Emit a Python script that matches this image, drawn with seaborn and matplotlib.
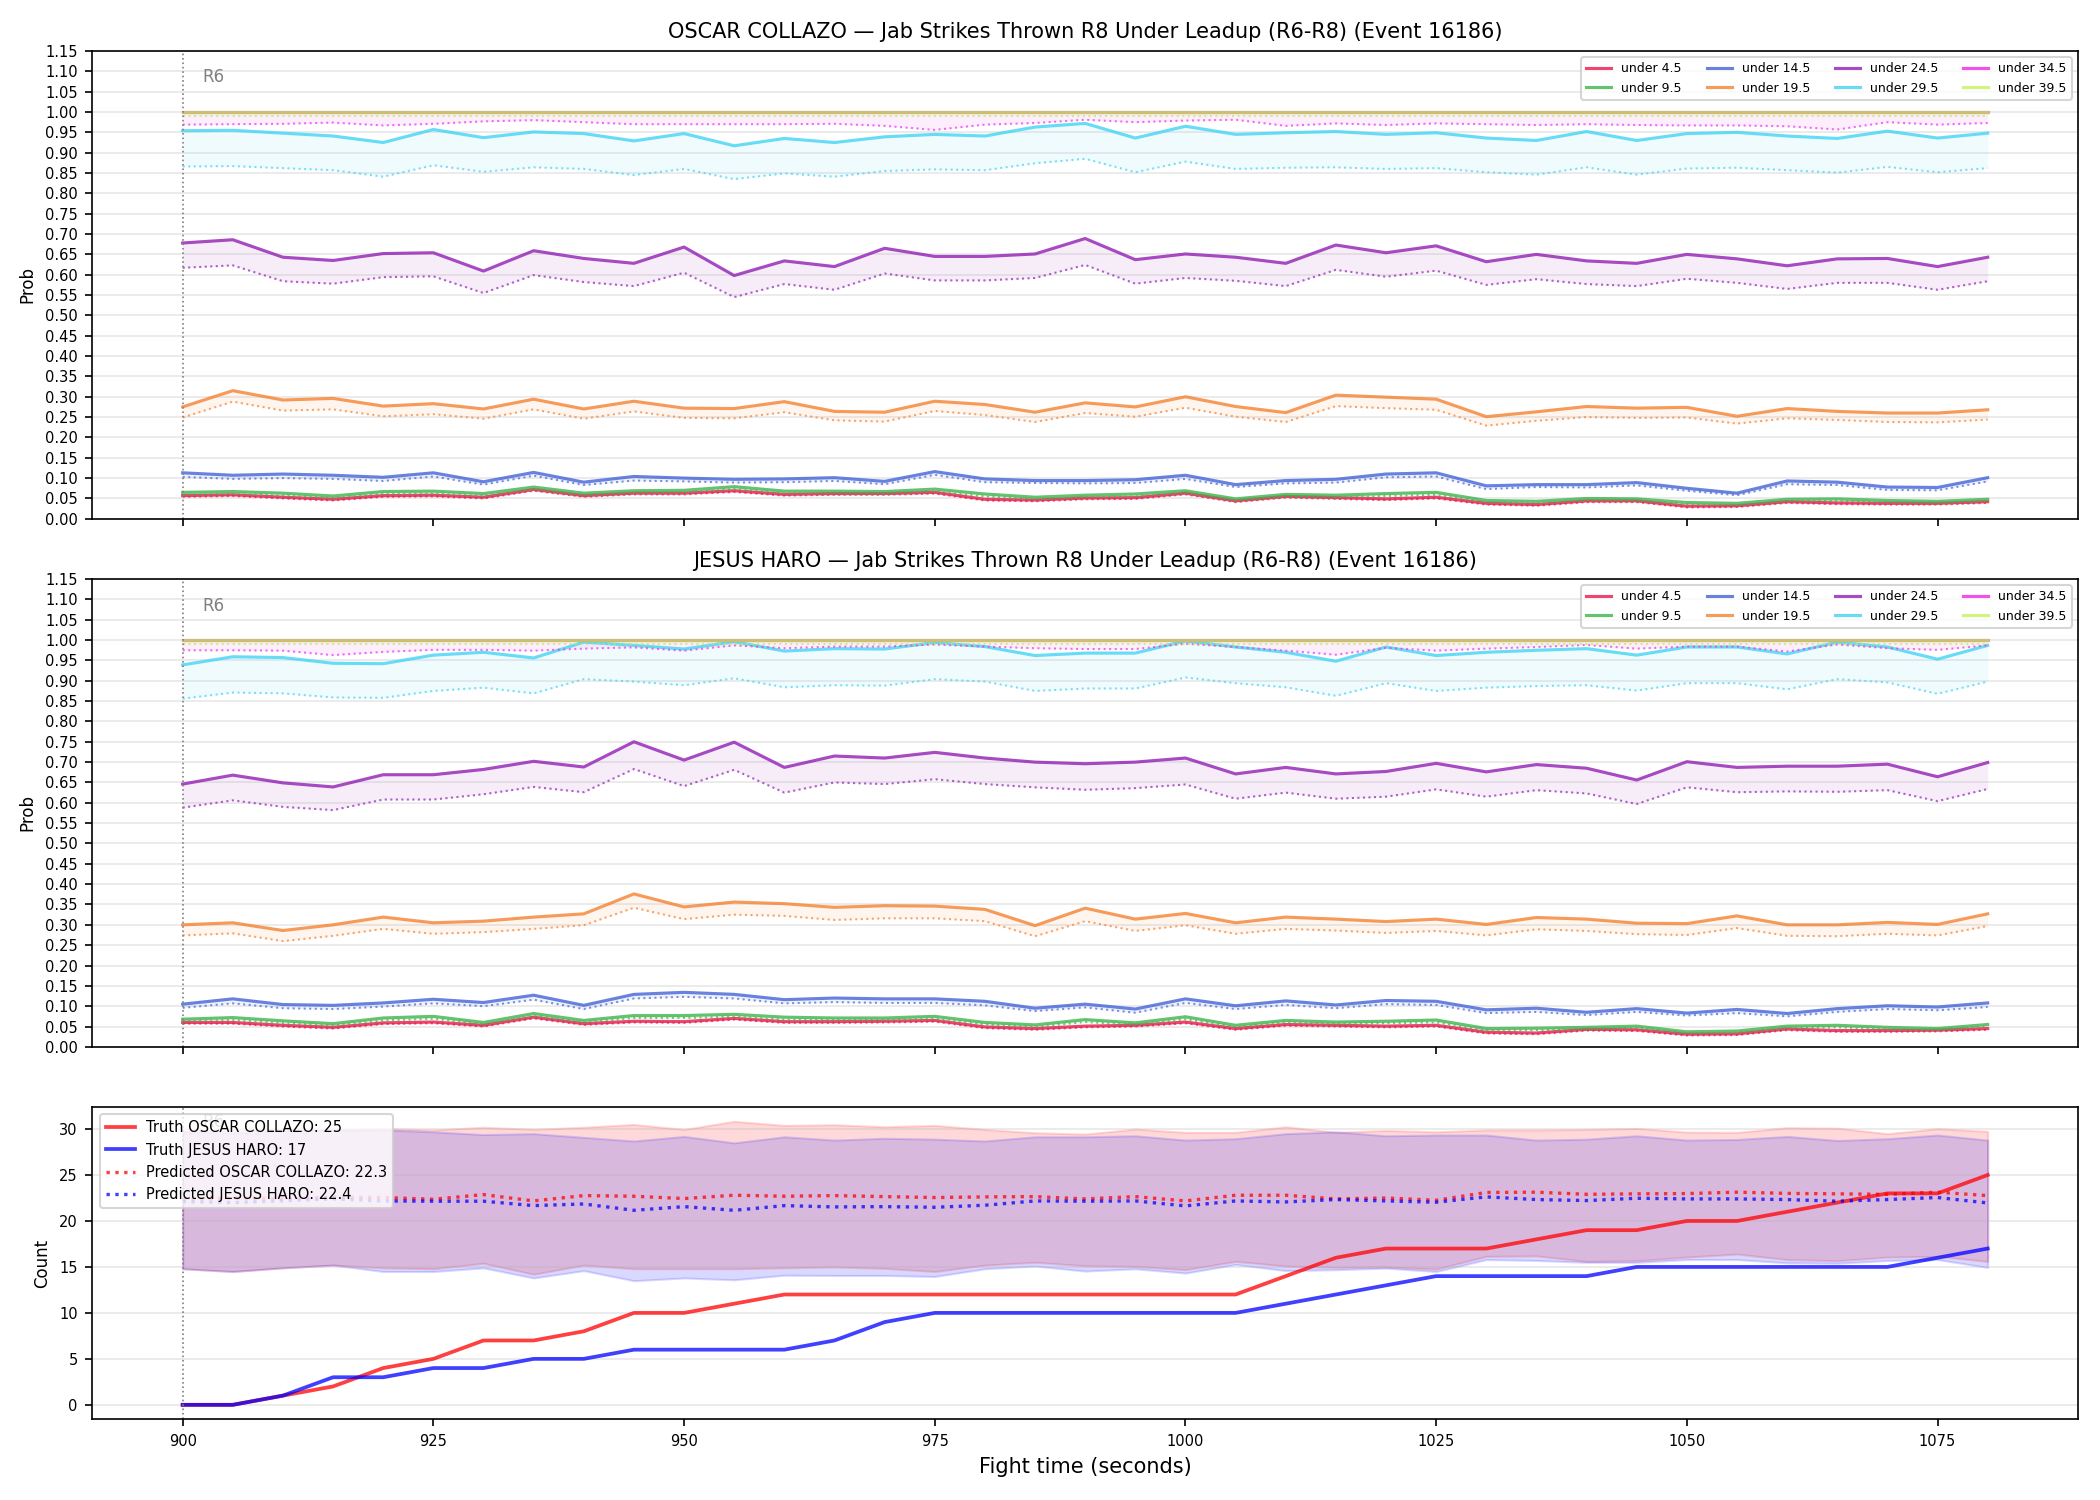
import numpy as np
import pandas as pd
import seaborn as sns
import matplotlib
matplotlib.use("Agg")
from matplotlib import pyplot as plt
from matplotlib.ticker import MultipleLocator

# fight time grid (seconds)
t = list(range(900, 1085, 5))

thresholds = ["under 4.5", "under 9.5", "under 14.5", "under 19.5",
              "under 24.5", "under 29.5", "under 34.5", "under 39.5"]
colors = ["#e6194b", "#3cb44b", "#4363d8", "#f58231",
          "#911eb4", "#42d4f4", "#f032e6", "#bfef45"]
line_alpha = [0.8, 0.8, 0.8, 0.8, 0.8, 0.8, 0.85, 0.7]

# ---- OSCAR COLLAZO: solid = model prob, dotted = second estimate
oc_u4 = [0.057, 0.059, 0.053, 0.048, 0.057, 0.058, 0.053, 0.072, 0.057, 0.063, 0.063, 0.069, 0.060, 0.062, 0.062, 0.065, 0.048, 0.046, 0.051,
         0.052, 0.063, 0.044, 0.055, 0.052, 0.049, 0.053, 0.038, 0.035, 0.044, 0.044, 0.031, 0.032, 0.042, 0.039, 0.038, 0.038, 0.042]
oc_u4_d = [0.054, 0.056, 0.050, 0.045, 0.054, 0.055, 0.050, 0.069, 0.054, 0.060, 0.060, 0.066, 0.057, 0.059, 0.059, 0.062, 0.045, 0.043, 0.048,
           0.049, 0.060, 0.041, 0.052, 0.049, 0.046, 0.050, 0.035, 0.032, 0.041, 0.041, 0.028, 0.029, 0.039, 0.036, 0.035, 0.035, 0.039]
oc_u9 = [0.065, 0.067, 0.063, 0.056, 0.067, 0.068, 0.062, 0.078, 0.063, 0.069, 0.070, 0.079, 0.068, 0.068, 0.067, 0.073, 0.061, 0.053, 0.058,
         0.061, 0.069, 0.049, 0.060, 0.058, 0.062, 0.065, 0.045, 0.043, 0.050, 0.049, 0.040, 0.038, 0.048, 0.049, 0.045, 0.043, 0.048]
oc_u9_d = [0.059, 0.061, 0.057, 0.051, 0.061, 0.062, 0.056, 0.072, 0.057, 0.063, 0.064, 0.073, 0.062, 0.062, 0.061, 0.067, 0.055, 0.048, 0.052,
           0.055, 0.063, 0.044, 0.054, 0.052, 0.056, 0.059, 0.040, 0.038, 0.045, 0.044, 0.035, 0.033, 0.043, 0.044, 0.040, 0.038, 0.043]
oc_u14 = [0.113, 0.107, 0.110, 0.107, 0.102, 0.113, 0.091, 0.114, 0.090, 0.104, 0.100, 0.097, 0.098, 0.101, 0.092, 0.116, 0.098, 0.094, 0.094,
          0.096, 0.107, 0.084, 0.094, 0.097, 0.110, 0.113, 0.081, 0.084, 0.084, 0.089, 0.075, 0.063, 0.093, 0.090, 0.078, 0.077, 0.101]
oc_u14_d = [0.103, 0.098, 0.100, 0.098, 0.093, 0.104, 0.084, 0.106, 0.083, 0.094, 0.092, 0.089, 0.090, 0.093, 0.085, 0.108, 0.090, 0.088, 0.087,
            0.088, 0.098, 0.078, 0.087, 0.089, 0.102, 0.104, 0.073, 0.078, 0.077, 0.082, 0.069, 0.058, 0.085, 0.083, 0.071, 0.070, 0.092]
oc_u19 = [0.275, 0.315, 0.292, 0.296, 0.277, 0.283, 0.270, 0.294, 0.270, 0.289, 0.272, 0.271, 0.288, 0.264, 0.262, 0.289, 0.281, 0.262,
          0.285, 0.275, 0.300, 0.276, 0.261, 0.304, 0.299, 0.294, 0.251, 0.263, 0.276, 0.272, 0.274, 0.252, 0.271, 0.264, 0.260, 0.260, 0.268]
oc_u19_d = [0.249, 0.288, 0.266, 0.269, 0.252, 0.257, 0.246, 0.269, 0.246, 0.264, 0.248, 0.247, 0.262, 0.242, 0.239, 0.265, 0.255, 0.238,
            0.260, 0.251, 0.273, 0.251, 0.238, 0.277, 0.272, 0.268, 0.229, 0.241, 0.250, 0.248, 0.249, 0.234, 0.247, 0.243, 0.238, 0.237, 0.244]
oc_u24 = [0.678, 0.686, 0.643, 0.635, 0.652, 0.654, 0.609, 0.659, 0.640, 0.628, 0.668, 0.598, 0.634, 0.620, 0.665, 0.645, 0.645, 0.651,
          0.689, 0.637, 0.651, 0.643, 0.628, 0.673, 0.654, 0.671, 0.632, 0.650, 0.634, 0.628, 0.650, 0.639, 0.622, 0.639, 0.640, 0.620, 0.643]
oc_u24_d = [0.617, 0.623, 0.584, 0.578, 0.594, 0.596, 0.555, 0.599, 0.582, 0.572, 0.605, 0.545, 0.577, 0.563, 0.603, 0.586, 0.586, 0.592,
            0.624, 0.578, 0.592, 0.585, 0.572, 0.612, 0.595, 0.610, 0.575, 0.589, 0.577, 0.572, 0.590, 0.580, 0.565, 0.580, 0.580, 0.563, 0.584]
oc_u29 = [0.954, 0.955, 0.948, 0.941, 0.925, 0.957, 0.937, 0.951, 0.947, 0.929, 0.947, 0.917, 0.935, 0.925, 0.939, 0.945, 0.941, 0.963,
          0.972, 0.936, 0.965, 0.945, 0.949, 0.952, 0.945, 0.949, 0.936, 0.930, 0.952, 0.930, 0.947, 0.950, 0.941, 0.935, 0.953, 0.936, 0.948]
oc_u29_d = [0.866, 0.867, 0.862, 0.857, 0.841, 0.869, 0.853, 0.864, 0.860, 0.845, 0.860, 0.835, 0.849, 0.841, 0.855, 0.859, 0.857, 0.874,
            0.885, 0.852, 0.878, 0.860, 0.863, 0.864, 0.860, 0.862, 0.852, 0.846, 0.864, 0.846, 0.861, 0.863, 0.857, 0.851, 0.865, 0.852, 0.862]
oc_u34 = [0.999] * 37
oc_u34_d = [0.969, 0.970, 0.971, 0.974, 0.967, 0.971, 0.977, 0.980, 0.975, 0.970, 0.970, 0.970, 0.970, 0.971, 0.966, 0.956, 0.969, 0.973, 0.981,
            0.975, 0.979, 0.981, 0.966, 0.972, 0.968, 0.972, 0.970, 0.968, 0.970, 0.968, 0.967, 0.967, 0.965, 0.957, 0.975, 0.969, 0.973]
oc_u39 = [1.0] * 37
oc_u39_d = [0.990] * 37

# ---- JESUS HARO
jh_u4 = [0.060, 0.060, 0.053, 0.048, 0.059, 0.061, 0.053, 0.073, 0.057, 0.063, 0.062, 0.070, 0.062, 0.062, 0.063, 0.065, 0.049, 0.045, 0.051,
         0.053, 0.061, 0.045, 0.055, 0.053, 0.051, 0.053, 0.036, 0.034, 0.043, 0.042, 0.031, 0.032, 0.044, 0.040, 0.040, 0.041, 0.045]
jh_u4_d = [0.057, 0.057, 0.050, 0.045, 0.056, 0.058, 0.050, 0.070, 0.054, 0.060, 0.059, 0.067, 0.059, 0.059, 0.060, 0.062, 0.046, 0.042, 0.048,
           0.050, 0.058, 0.042, 0.052, 0.050, 0.048, 0.050, 0.033, 0.031, 0.040, 0.039, 0.028, 0.029, 0.041, 0.037, 0.037, 0.038, 0.042]
jh_u9 = [0.068, 0.072, 0.064, 0.057, 0.071, 0.075, 0.060, 0.082, 0.065, 0.077, 0.077, 0.080, 0.073, 0.071, 0.071, 0.075, 0.060, 0.054, 0.067,
         0.059, 0.074, 0.053, 0.065, 0.061, 0.063, 0.066, 0.045, 0.046, 0.048, 0.051, 0.037, 0.039, 0.051, 0.053, 0.048, 0.045, 0.055]
jh_u9_d = [0.063, 0.066, 0.058, 0.052, 0.065, 0.069, 0.055, 0.076, 0.060, 0.071, 0.071, 0.074, 0.067, 0.066, 0.066, 0.069, 0.055, 0.049, 0.061,
           0.054, 0.068, 0.048, 0.060, 0.056, 0.058, 0.060, 0.040, 0.041, 0.043, 0.046, 0.033, 0.035, 0.046, 0.048, 0.043, 0.041, 0.050]
jh_u14 = [0.105, 0.118, 0.104, 0.102, 0.108, 0.117, 0.109, 0.127, 0.102, 0.129, 0.134, 0.129, 0.116, 0.120, 0.118, 0.118, 0.112, 0.095, 0.105,
          0.093, 0.118, 0.101, 0.113, 0.103, 0.114, 0.112, 0.091, 0.095, 0.085, 0.094, 0.083, 0.092, 0.082, 0.094, 0.101, 0.098, 0.108]
jh_u14_d = [0.096, 0.107, 0.095, 0.093, 0.099, 0.107, 0.100, 0.116, 0.093, 0.119, 0.123, 0.119, 0.107, 0.110, 0.108, 0.108, 0.102, 0.088, 0.097,
            0.084, 0.108, 0.093, 0.103, 0.095, 0.105, 0.103, 0.083, 0.086, 0.078, 0.086, 0.077, 0.083, 0.075, 0.086, 0.093, 0.090, 0.098]
jh_u19 = [0.300, 0.305, 0.286, 0.300, 0.319, 0.305, 0.309, 0.319, 0.327, 0.376, 0.344, 0.356, 0.352, 0.343, 0.347, 0.346, 0.338, 0.298,
          0.341, 0.314, 0.328, 0.305, 0.319, 0.314, 0.308, 0.314, 0.301, 0.318, 0.314, 0.304, 0.303, 0.322, 0.300, 0.300, 0.306, 0.301, 0.327]
jh_u19_d = [0.274, 0.279, 0.260, 0.273, 0.290, 0.278, 0.282, 0.290, 0.299, 0.342, 0.314, 0.325, 0.322, 0.312, 0.316, 0.316, 0.309, 0.272,
            0.309, 0.285, 0.299, 0.278, 0.290, 0.286, 0.280, 0.285, 0.274, 0.289, 0.285, 0.277, 0.275, 0.292, 0.273, 0.272, 0.278, 0.274, 0.297]
jh_u24 = [0.646, 0.668, 0.649, 0.639, 0.669, 0.669, 0.682, 0.702, 0.688, 0.750, 0.705, 0.749, 0.687, 0.715, 0.710, 0.724, 0.710, 0.700,
          0.696, 0.700, 0.710, 0.671, 0.687, 0.671, 0.677, 0.697, 0.676, 0.694, 0.685, 0.656, 0.701, 0.687, 0.690, 0.690, 0.695, 0.664, 0.699]
jh_u24_d = [0.588, 0.606, 0.590, 0.582, 0.608, 0.608, 0.621, 0.639, 0.626, 0.683, 0.641, 0.681, 0.625, 0.650, 0.646, 0.658, 0.646, 0.638,
            0.632, 0.636, 0.645, 0.610, 0.625, 0.610, 0.615, 0.633, 0.615, 0.631, 0.623, 0.597, 0.638, 0.626, 0.628, 0.627, 0.631, 0.604, 0.634]
jh_u29 = [0.939, 0.959, 0.957, 0.943, 0.942, 0.963, 0.970, 0.956, 0.995, 0.987, 0.978, 0.996, 0.973, 0.979, 0.978, 0.994, 0.984, 0.962,
          0.968, 0.968, 0.998, 0.983, 0.970, 0.948, 0.983, 0.962, 0.970, 0.975, 0.979, 0.963, 0.983, 0.983, 0.966, 0.995, 0.983, 0.953, 0.987]
jh_u29_d = [0.856, 0.871, 0.869, 0.859, 0.858, 0.875, 0.883, 0.869, 0.904, 0.898, 0.889, 0.906, 0.884, 0.889, 0.888, 0.904, 0.898, 0.875,
            0.881, 0.881, 0.908, 0.894, 0.884, 0.863, 0.894, 0.875, 0.883, 0.887, 0.889, 0.876, 0.894, 0.894, 0.879, 0.904, 0.896, 0.868, 0.898]
jh_u34 = [0.999] * 37
jh_u34_d = [0.975, 0.975, 0.974, 0.963, 0.971, 0.976, 0.976, 0.974, 0.979, 0.982, 0.974, 0.987, 0.980, 0.984, 0.984, 0.989, 0.984, 0.980, 0.978,
            0.978, 0.991, 0.983, 0.974, 0.964, 0.981, 0.974, 0.979, 0.983, 0.988, 0.979, 0.984, 0.984, 0.972, 0.989, 0.980, 0.976, 0.987]
jh_u39 = [1.0] * 37
jh_u39_d = [0.990] * 37

# ---- cumulative counts
truth_oc = [0, 0, 1, 2, 4, 5, 7, 7, 8, 10, 10, 11, 12, 12, 12, 12, 12, 12, 12, 12, 12, 12,
            14, 16, 17, 17, 17, 18, 19, 19, 20, 20, 21, 22, 23, 23, 25]
truth_jh = [0, 0, 1, 3, 3, 4, 4, 5, 5, 6, 6, 6, 6, 7, 9, 10, 10, 10, 10, 10, 10, 10,
            11, 12, 13, 14, 14, 14, 14, 15, 15, 15, 15, 15, 15, 16, 17]
pred_oc = [22.3, 22.5, 22.4, 22.6, 22.55, 22.36, 22.87, 22.18, 22.76, 22.69, 22.44, 22.8, 22.69, 22.76, 22.65, 22.55, 22.62, 22.65,
           22.4, 22.65, 22.18, 22.8, 22.8, 22.4, 22.5, 22.25, 23.1, 23.13, 22.9, 22.95, 22.98, 23.13, 23.0, 22.95, 22.9, 23.13, 22.76]
pred_jh = [22.1, 22.0, 22.2, 22.4, 22.18, 22.15, 22.15, 21.67, 21.85, 21.16, 21.56, 21.16, 21.67, 21.53, 21.56, 21.49, 21.71, 22.18,
           22.15, 22.18, 21.64, 22.18, 22.07, 22.33, 22.18, 22.04, 22.62, 22.33, 22.22, 22.47, 22.4, 22.4, 22.33, 22.15, 22.33, 22.55, 21.96]
oc_hi = [29.8, 29.9, 30.0, 29.9, 30.04, 29.9, 30.2, 29.96, 30.2, 30.5, 29.96, 30.84, 30.4, 30.47, 30.25, 30.4, 29.96, 29.6,
         29.45, 30.0, 29.64, 29.64, 30.25, 29.64, 29.85, 29.7, 29.9, 29.9, 29.96, 30.07, 29.67, 29.64, 30.15, 30.1, 29.5, 30.04, 29.75]
oc_lo = [14.8, 14.5, 14.9, 15.2, 14.9, 14.8, 15.4, 14.2, 15.2, 14.8, 14.8, 14.8, 14.9, 15.0, 14.84, 14.5, 15.2, 15.5,
         15.13, 15.05, 14.7, 15.6, 15.1, 14.95, 15.0, 14.76, 16.15, 16.2, 15.6, 15.67, 16.07, 16.4, 15.8, 15.67, 16.07, 16.15, 15.6]
jh_hi = [29.7, 29.6, 29.8, 29.9, 29.9, 29.7, 29.4, 29.5, 29.1, 28.7, 29.2, 28.5, 29.16, 28.8, 29.0, 28.9, 28.7, 29.16,
         29.16, 29.27, 28.8, 28.95, 29.5, 29.7, 29.27, 29.35, 29.35, 28.8, 28.9, 29.27, 28.8, 28.87, 29.2, 28.76, 28.95, 29.35, 28.8]
jh_lo = [14.8, 14.5, 14.9, 15.2, 14.5, 14.5, 14.9, 13.8, 14.6, 13.5, 13.8, 13.6, 14.1, 14.07, 14.07, 13.96, 14.8, 15.1,
         14.55, 14.8, 14.33, 15.27, 14.6, 14.7, 14.87, 14.5, 15.8, 15.7, 15.5, 15.5, 15.8, 15.8, 15.45, 15.4, 15.7, 15.8, 14.95]

pred_oc_label = 22.3
pred_jh_label = 22.4

fighters = [
    ("OSCAR COLLAZO",
     [oc_u4, oc_u9, oc_u14, oc_u19, oc_u24, oc_u29, oc_u34, oc_u39],
     [oc_u4_d, oc_u9_d, oc_u14_d, oc_u19_d, oc_u24_d, oc_u29_d, oc_u34_d, oc_u39_d]),
    ("JESUS HARO",
     [jh_u4, jh_u9, jh_u14, jh_u19, jh_u24, jh_u29, jh_u34, jh_u39],
     [jh_u4_d, jh_u9_d, jh_u14_d, jh_u19_d, jh_u24_d, jh_u29_d, jh_u34_d, jh_u39_d]),
]

fig, axes = plt.subplots(3, 1, figsize=(14, 10), sharex=True,
                         gridspec_kw={"height_ratios": [3, 3, 2]})
fig.subplots_adjust(left=0.044, right=0.9895, top=0.966, bottom=0.054, hspace=0.145)

for ax, (name, solid, dotted) in zip(axes[:2], fighters):
    for lab, col, a, s, d in zip(thresholds, colors, line_alpha, solid, dotted):
        sns.lineplot(x=t, y=s, ax=ax, color=col, lw=1.5, alpha=a, label=lab)
        sns.lineplot(x=t, y=d, ax=ax, color=col, lw=1.0, ls=":", alpha=0.7)
        ax.fill_between(t, d, s, color=col, alpha=0.08, lw=0)
    ax.axvline(900, color="gray", ls=":", lw=0.8)
    ax.text(902, 1.085, "R6", color="gray", fontsize=8, va="center")
    ax.set_ylim(0, 1.15)
    ax.yaxis.set_major_locator(MultipleLocator(0.05))
    ax.set_ylabel("Prob", fontsize=8)
    ax.set_title(f"{name} \u2014 Jab Strikes Thrown R8 Under Leadup (R6-R8) (Event 16186)", fontsize=10)
    ax.grid(axis="y", alpha=0.3)
    ax.tick_params(labelsize=7)
    ax.legend(loc="upper right", ncol=4, fontsize=6)

ax = axes[2]
ax.fill_between(t, oc_lo, oc_hi, color="red", alpha=0.15)
ax.fill_between(t, jh_lo, jh_hi, color="blue", alpha=0.15)
sns.lineplot(x=t, y=truth_oc, ax=ax, color="red", lw=1.8, alpha=0.75,
             label=f"Truth OSCAR COLLAZO: {truth_oc[-1]}")
sns.lineplot(x=t, y=truth_jh, ax=ax, color="blue", lw=1.8, alpha=0.75,
             label=f"Truth JESUS HARO: {truth_jh[-1]}")
sns.lineplot(x=t, y=pred_oc, ax=ax, color="red", lw=1.6, ls=":", alpha=0.75,
             label=f"Predicted OSCAR COLLAZO: {pred_oc_label}")
sns.lineplot(x=t, y=pred_jh, ax=ax, color="blue", lw=1.6, ls=":", alpha=0.75,
             label=f"Predicted JESUS HARO: {pred_jh_label}")
ax.axvline(900, color="gray", ls=":", lw=0.8)
ax.text(902, 30.8, "R6", color="gray", fontsize=8, va="center", zorder=0)
ax.set_ylabel("Count", fontsize=8)
ax.grid(axis="y", alpha=0.3)
ax.tick_params(labelsize=7)
ax.legend(loc="upper left", fontsize=7)
ax.xaxis.set_major_locator(MultipleLocator(25))
ax.set_xlabel("Fight time (seconds)", fontsize=10)

fig.savefig("out.png", dpi=150)
